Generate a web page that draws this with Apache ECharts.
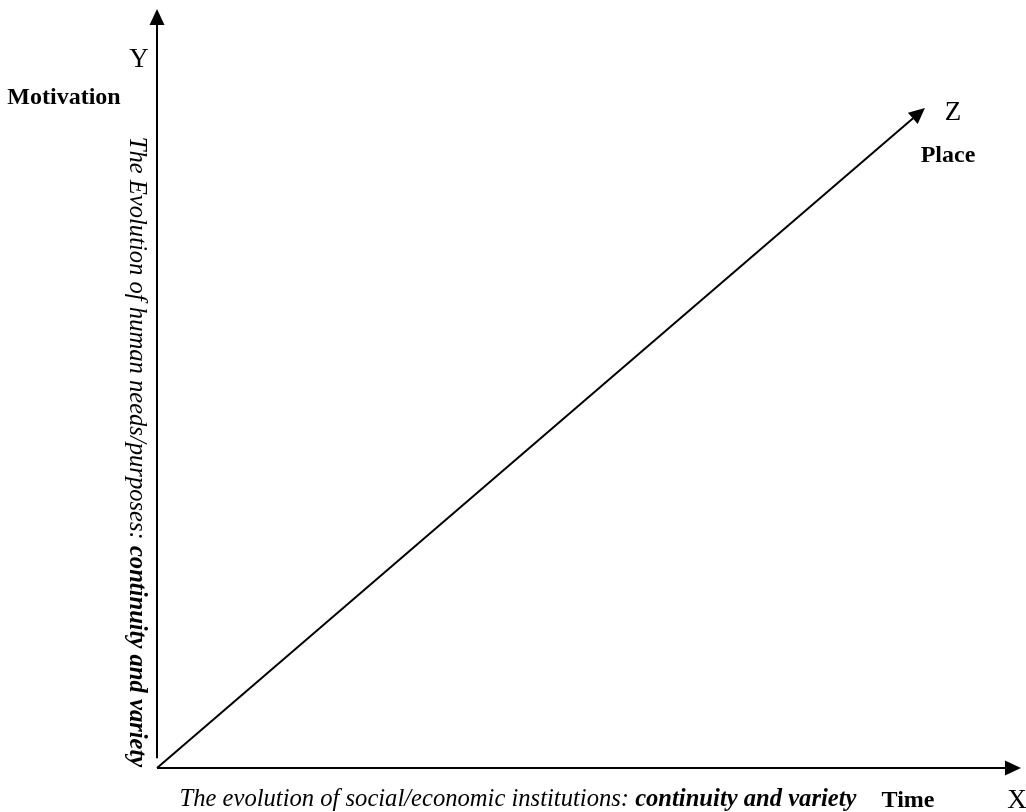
<!DOCTYPE html>
<html>
<head>
<meta charset="utf-8">
<script src="https://cdn.jsdelivr.net/npm/echarts@6/dist/echarts.min.js"></script>
<style>html,body{margin:0;padding:0;background:#fff}#c{width:1026px;height:812px}</style>
</head>
<body>
<div id="c"></div>
<script>
// Data
const xRange = [0, 100];
const yRange = [0, 100];
const origin = [0, 0];
const xEnd = [99.07, 0];
const yStart = [0, 1.3];
const yEnd = [0, 98.95];
const zEnd = [88.18, 86.27];
const axisLetters = ['X', 'Y', 'Z'];
const axisWords = ['Time', 'Motivation', 'Place'];
const xTitle = ['The evolution of social/economic institutions: ', 'continuity and variety'];
const yTitle = ['The Evolution of human needs/purposes: ', 'continuity and variety'];

const serif = 'Liberation Serif';
const chart = echarts.init(document.getElementById('c'));
const arrowLine = (a, b) => [{ coord: a }, { coord: b }];
const txt = (x, y, text, size, weight) => ({
  type: 'text', x: x, y: y,
  style: { text: text, fontFamily: serif, fontSize: size, fontWeight: weight, fill: '#000', align: 'center', verticalAlign: 'middle' }
});
const titleSize = 24.6;
const richStyle = {
  a: { fontFamily: serif, fontSize: titleSize, fontStyle: 'italic', fontWeight: 'normal', fill: '#000' },
  b: { fontFamily: serif, fontSize: titleSize, fontStyle: 'italic', fontWeight: 'bold', fill: '#000' }
};

chart.setOption({
  animation: false,
  grid: { left: 157, right: 5, top: 9, bottom: 44, containLabel: false },
  xAxis: { type: 'value', min: xRange[0], max: xRange[1], axisLine: { show: false }, axisTick: { show: false }, axisLabel: { show: false }, splitLine: { show: false } },
  yAxis: { type: 'value', min: yRange[0], max: yRange[1], axisLine: { show: false }, axisTick: { show: false }, axisLabel: { show: false }, splitLine: { show: false } },
  series: [{
    type: 'line',
    data: [],
    markLine: {
      silent: true,
      symbol: ['none', 'triangle'],
      symbolSize: [15, 16],
      label: { show: false },
      lineStyle: { color: '#000', width: 2, type: 'solid' },
      itemStyle: { color: '#000' },
      data: [
        arrowLine(origin, xEnd),
        arrowLine(yStart, yEnd),
        arrowLine(origin, zEnd)
      ]
    }
  }],
  graphic: [
    txt(139, 60, axisLetters[1], 27, 'normal'),
    txt(64, 98, axisWords[1], 24, 'bold'),
    txt(953, 113, axisLetters[2], 27, 'normal'),
    txt(948, 156, axisWords[2], 24, 'bold'),
    txt(908, 801, axisWords[0], 24, 'bold'),
    txt(1017, 801, axisLetters[0], 27, 'normal'),
    { type: 'text', x: 518, y: 800, style: { text: '{a|' + xTitle[0] + '}{b|' + xTitle[1] + '}', align: 'center', verticalAlign: 'middle', rich: richStyle } },
    { type: 'text', x: 136, y: 452, rotation: -Math.PI / 2, style: { text: '{a|' + yTitle[0] + '}{b|' + yTitle[1] + '}', align: 'center', verticalAlign: 'middle', rich: richStyle } }
  ]
});
</script>
</body>
</html>
